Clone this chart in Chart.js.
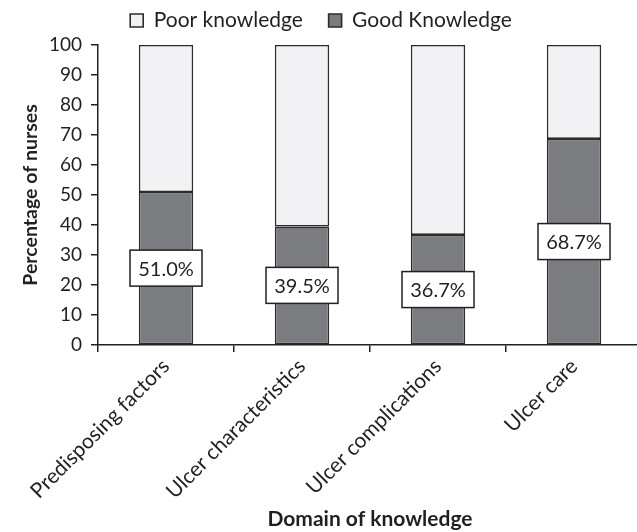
<!DOCTYPE html>
<html>
<head>
<meta charset="utf-8">
<script src="https://cdn.jsdelivr.net/npm/chart.js@4"></script>
<style>
html,body{margin:0;padding:0;background:#fff;overflow:hidden;width:637px;height:532px;}
#wrap{width:660px;height:532px;position:relative;}
</style>
</head>
<body>
<div id="wrap"><canvas id="c"></canvas></div>
<script>
const categories = ["Predisposing factors", "Ulcer characteristics", "Ulcer complications", "Ulcer care"];
const goodKnowledge = [51.0, 39.5, 36.7, 68.7];
const poorKnowledge = [49.0, 60.5, 63.3, 31.3];
const yTicks = [0, 10, 20, 30, 40, 50, 60, 70, 80, 90, 100];

const FONT = "Lato, 'Open Sans', sans-serif";
const INK = '#231f20';

const legendHeightPlugin = {
  id: 'legendHeight',
  afterInit(chart) {
    const lg = chart.legend;
    if (!lg) return;
    const orig = lg.fit;
    lg.fit = function () {
      orig.call(this);
      this.height = 45;
      this.bottom = this.top + 45;
    };
  }
};

const labelPlugin = {
  id: 'boxLabels',
  afterDatasetsDraw(chart) {
    const ctx = chart.ctx;
    const meta = chart.getDatasetMeta(0);
    ctx.save();
    ctx.font = '20px ' + FONT;
    ctx.textAlign = 'center';
    ctx.textBaseline = 'middle';
    meta.data.forEach((bar, i) => {
      const v = chart.data.datasets[0].data[i];
      const txt = v.toFixed(1) + '%';
      const cx = bar.x;
      const cy = (bar.y + bar.base) / 2;
      const w = 72, h = 36;
      ctx.fillStyle = '#ffffff';
      ctx.fillRect(cx - w / 2, cy - h / 2, w, h);
      ctx.lineWidth = 1.5;
      ctx.strokeStyle = INK;
      ctx.strokeRect(cx - w / 2, cy - h / 2, w, h);
      ctx.fillStyle = INK;
      ctx.fillText(txt, cx, cy + 1);
    });
    ctx.restore();
  }
};

new Chart(document.getElementById('c'), {
  type: 'bar',
  data: {
    labels: categories,
    datasets: [
      {
        label: 'Good Knowledge',
        data: goodKnowledge,
        backgroundColor: '#7b7c80',
        borderColor: '#2b2b2b',
        borderWidth: 1.6,
        borderSkipped: false,
        barPercentage: 0.4,
        categoryPercentage: 1.0
      },
      {
        label: 'Poor knowledge',
        data: poorKnowledge,
        backgroundColor: '#f2f2f4',
        borderColor: '#2b2b2b',
        borderWidth: 1.6,
        borderSkipped: false,
        barPercentage: 0.4,
        categoryPercentage: 1.0
      }
    ]
  },
  options: {
    responsive: true,
    maintainAspectRatio: false,
    animation: false,
    devicePixelRatio: 1,
    layout: { padding: { top: 0, right: 18, left: 0, bottom: 0 } },
    plugins: {
      legend: {
        display: true,
        reverse: true,
        labels: {
          font: { family: FONT, size: 21 },
          color: INK,
          boxWidth: 13,
          boxHeight: 13,
          padding: 10,
          generateLabels(chart) {
            const items = Chart.defaults.plugins.legend.labels.generateLabels(chart);
            items.forEach(it => { if (it.datasetIndex === 1) it.text = it.text + '\u2003'; });
            return items;
          }
        }
      },
      tooltip: { enabled: false }
    },
    scales: {
      x: {
        stacked: true,
        offset: true,
        border: { display: true, color: INK, width: 1.5 },
        grid: { display: true, offset: true, drawOnChartArea: false, drawTicks: true, tickLength: 7, color: INK, lineWidth: 1.5 },
        ticks: {
          font: { family: FONT, size: 21 },
          color: INK,
          maxRotation: 45,
          minRotation: 45,
          padding: 2
        },
        title: {
          display: true,
          text: 'Domain of knowledge',
          font: { family: FONT, size: 21, weight: 'bold' },
          color: INK,
          padding: { top: 0, bottom: 0 }
        },
        afterFit(scale) { scale.height = 187; }
      },
      y: {
        stacked: true,
        min: 0,
        max: 100,
        border: { display: true, color: INK, width: 1.5 },
        grid: { display: true, drawOnChartArea: false, drawTicks: true, tickLength: 7, color: INK, lineWidth: 1.5 },
        afterBuildTicks(scale) { scale.ticks = yTicks.map(v => ({ value: v })); },
        ticks: {
          font: { family: FONT, size: 19 },
          color: INK,
          padding: 9
        },
        title: {
          display: true,
          text: 'Percentage of nurses',
          font: { family: FONT, size: 19.5, weight: 'bold' },
          color: INK,
          padding: { top: 19, bottom: 0 }
        },
        afterFit(scale) { scale.width = 98; }
      }
    }
  },
  plugins: [legendHeightPlugin, labelPlugin]
});
</script>
</body>
</html>
